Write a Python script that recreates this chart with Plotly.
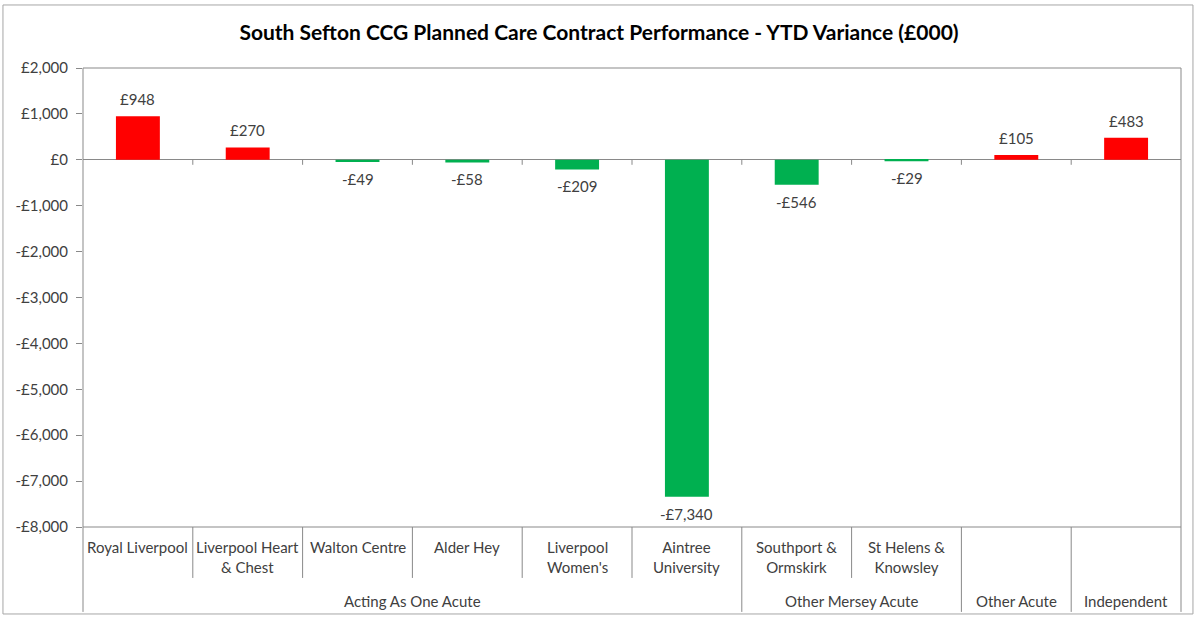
import plotly.graph_objects as go

names = ["Royal Liverpool", "Liverpool Heart<br>& Chest", "Walton Centre", "Alder Hey",
         "Liverpool<br>Women's", "Aintree<br>University", "Southport &<br>Ormskirk",
         "St Helens &<br>Knowsley", "", ""]
groups = ["Acting As One Acute"] * 6 + ["Other Mersey Acute"] * 2 + ["Other Acute", "Independent"]
values = [948, 270, -49, -58, -209, -7340, -546, -29, 105, 483]
yticks = list(range(-8000, 2001, 1000))

RED = "#FF0000"
GREEN = "#00B050"
FONT = "Lato, Calibri, Carlito, sans-serif"
TXT = "#404040"
LINE = "#898989"

def money(v):
    s = "£{:,}".format(abs(v))
    return "-" + s if v < 0 else s

xs = list(range(len(values)))
colors = [RED if v > 0 else GREEN for v in values]

fig = go.Figure()
fig.add_trace(go.Bar(
    x=xs, y=values, width=0.4, marker=dict(color=colors, line=dict(width=0)),
    hoverinfo="skip",
))

y_inner = -0.111   # bottom of inner category separators
y_outer = -0.185   # bottom of group separators

shapes = []
shapes.append(dict(type="rect", xref="paper", yref="paper", x0=-0.0729, x1=1.0109,
                   y0=-0.1895, y1=1.1373, line=dict(color="#A6A6A6", width=1), layer="below"))
shapes.append(dict(type="rect", xref="paper", yref="paper", x0=0, x1=1, y0=0, y1=1,
                   line=dict(color=LINE, width=1)))
for xp in (0, 1):
    shapes.append(dict(type="line", xref="paper", yref="paper", x0=xp, x1=xp, y0=y_outer, y1=0,
                       line=dict(color=LINE, width=1)))
for i in range(len(values) - 1):
    is_group = groups[i] != groups[i + 1]
    shapes.append(dict(type="line", xref="x", yref="paper", x0=i + 0.5, x1=i + 0.5,
                       y0=y_outer if is_group else y_inner, y1=0,
                       line=dict(color=LINE, width=1)))
    # small tick marks on the zero line at category boundaries
    shapes.append(dict(type="line", xref="x", yref="y", ysizemode="pixel", yanchor=0,
                       x0=i + 0.5, x1=i + 0.5, y0=0, y1=-5,
                       line=dict(color=LINE, width=1)))

annotations = []
# data labels
for i, v in enumerate(values):
    annotations.append(dict(x=i, y=v, xref="x", yref="y", text=money(v), showarrow=False,
                            xanchor="center", yanchor="bottom" if v > 0 else "top",
                            yshift=6 if v > 0 else -6,
                            font=dict(family=FONT, size=15, color=TXT)))
for i, n in enumerate(names):
    if n:
        annotations.append(dict(x=i, y=-0.019, xref="x", yref="paper", text=n, showarrow=False,
                                xanchor="center", yanchor="top",
                                font=dict(family=FONT, size=15, color=TXT)))
seen = []
for g in groups:
    if g not in seen:
        seen.append(g)
for g in seen:
    idx = [i for i, gg in enumerate(groups) if gg == g]
    annotations.append(dict(x=(idx[0] + idx[-1]) / 2, y=-0.162, xref="x", yref="paper", text=g,
                            showarrow=False, xanchor="center", yanchor="middle",
                            font=dict(family=FONT, size=15, color=TXT)))

fig.update_layout(
    width=1198, height=619,
    margin=dict(l=83, r=17, t=68, b=92),
    paper_bgcolor="white", plot_bgcolor="white",
    showlegend=False,
    title=dict(text="<b>South Sefton CCG Planned Care Contract Performance - YTD Variance (£000)</b>",
               x=0.5, xanchor="center", y=0.947, yanchor="middle",
               font=dict(family=FONT, size=21, color="black")),
    xaxis=dict(range=[-0.5, len(values) - 0.5], showticklabels=False, showgrid=False,
               zeroline=False, showline=False, ticks=""),
    yaxis=dict(range=[-8000, 2000], tickvals=yticks, ticktext=[money(v) for v in yticks],
               showgrid=False, zeroline=True, zerolinecolor=LINE, zerolinewidth=1,
               ticks="outside", ticklen=6, tickcolor=LINE, showline=False,
               ticklabelstandoff=5,
               tickfont=dict(family=FONT, size=15, color=TXT)),
    shapes=shapes, annotations=annotations,
)

fig.write_html("out.html", post_script="document.body.style.margin='0';",
               config={"displayModeBar": False})
